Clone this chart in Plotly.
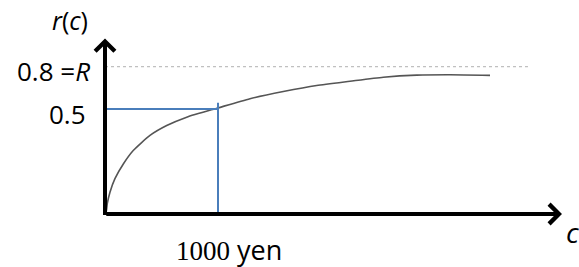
import plotly.graph_objects as go

# Data (read from the schematic)
curve_c = [8, 15, 20, 44, 88, 162, 250, 398, 546, 723, 1000, 1283, 1578, 1873, 2168, 2463, 2758, 3053, 3407]
curve_r = [0.0, 0.026, 0.049, 0.104, 0.168, 0.238, 0.302, 0.374, 0.421, 0.461, 0.505, 0.549, 0.583,
           0.612, 0.632, 0.651, 0.661, 0.663, 0.660]

R_level = 0.702          # drawn height of the R asymptote
R_line_end = 3743
mark_c = 1000
mark_r = 0.5
mark_top = 0.53
x_tip = 4044
y_tip = 0.836

tick_vals = [0.5, R_level]
tick_text = ["0.5", "0.8 =<i>R</i>"]
x_label = '<span style="font-family:Liberation Serif">1000</span> yen'

SANS = "Open Sans"

fig = go.Figure()

# dotted asymptote
fig.add_trace(go.Scatter(x=[0, R_line_end], y=[R_level, R_level], mode="lines",
                         line=dict(color="#c0c0c0", width=1.2, dash="dot"),
                         hoverinfo="skip", showlegend=False))
# curve
fig.add_trace(go.Scatter(x=curve_c, y=curve_r, mode="lines",
                         line=dict(color="#555555", width=1.6, shape="spline", smoothing=0.6),
                         hoverinfo="skip", showlegend=False))
# blue guides
fig.add_trace(go.Scatter(x=[0, mark_c], y=[mark_r, mark_r], mode="lines",
                         line=dict(color="#4a7ebb", width=2),
                         hoverinfo="skip", showlegend=False))
fig.add_trace(go.Scatter(x=[mark_c, mark_c], y=[0, mark_top], mode="lines",
                         line=dict(color="#4a7ebb", width=2),
                         hoverinfo="skip", showlegend=False))

annotations = []
# axes as arrows
annotations.append(dict(x=x_tip, y=0, ax=-2, ay=0, xref="x", yref="y", axref="x", ayref="y",
                        showarrow=True, arrowhead=4, arrowwidth=4, arrowsize=0.95,
                        arrowcolor="black", standoff=0, text=""))
annotations.append(dict(x=0, y=y_tip, ax=0, ay=-0.012, xref="x", yref="y", axref="x", ayref="y",
                        showarrow=True, arrowhead=4, arrowwidth=4, arrowsize=0.95,
                        arrowcolor="black", standoff=0, text=""))
# tick labels
for v, t, xs, ys in zip(tick_vals, tick_text, [-17, -13], [-5, -4]):
    annotations.append(dict(x=0, y=v, xref="x", yref="y", text=t, showarrow=False,
                            xanchor="right", yanchor="middle", xshift=xs, yshift=ys,
                            font=dict(family=SANS, size=26, color="black")))
# axis titles
annotations.append(dict(x=0, y=y_tip, xref="x", yref="y", text="<i>r</i>(<i>c</i>)", showarrow=False,
                        xanchor="right", yanchor="middle", xshift=-15, yshift=18,
                        font=dict(family=SANS, size=25, color="black")))
annotations.append(dict(x=1.0, y=-0.10, xref="paper", yref="paper", text="<i>c</i>", showarrow=False,
                        xanchor="left", yanchor="middle", xshift=-6,
                        font=dict(family=SANS, size=28, color="black")))
annotations.append(dict(x=mark_c, y=0, xref="x", yref="y", text=x_label, showarrow=False,
                        xanchor="center", yanchor="middle", xshift=11, yshift=-35,
                        font=dict(family=SANS, size=27, color="black")))

fig.update_layout(
    width=579, height=267,
    margin=dict(l=105, r=9, t=30, b=53),
    paper_bgcolor="white", plot_bgcolor="white",
    xaxis=dict(range=[0, 4115], visible=False),
    yaxis=dict(range=[0, 0.876], visible=False),
    annotations=annotations,
)

# remove the browser's default 8px body margin so the figure fills the window exactly
fig.write_html("out.html", config={"displayModeBar": False},
               post_script="document.body.style.margin='0px';")
